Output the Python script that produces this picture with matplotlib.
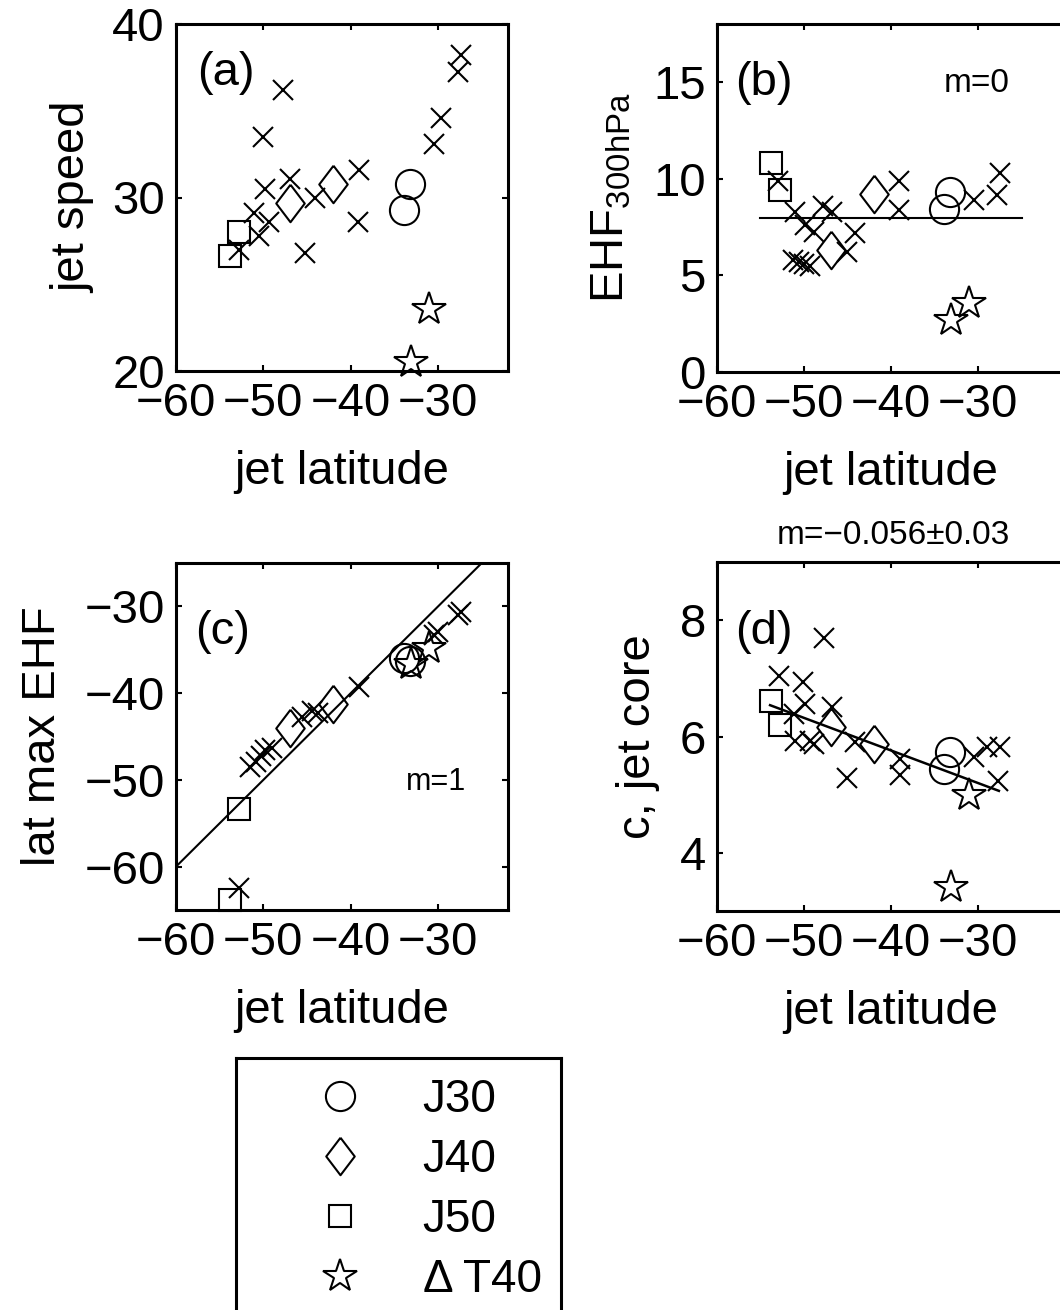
import matplotlib
matplotlib.use("Agg")
import matplotlib.pyplot as plt
import numpy as np

plt.rcParams['font.family'] = ['Liberation Sans', 'DejaVu Sans']
plt.rcParams['mathtext.fontset'] = 'custom'
plt.rcParams['mathtext.rm'] = 'Liberation Sans'
plt.rcParams['mathtext.it'] = 'Liberation Sans:italic'

# ---- data ----
# special runs, same jet latitudes in every panel
j30_lat = [-33.2, -33.9]
j40_lat = [-42.0, -46.9]
j50_lat = [-53.8, -52.8]
dt40_lat = [-31.0, -33.1]

# (a) jet speed
a_j30 = [30.8, 29.3]
a_j40 = [30.8, 29.7]
a_j50 = [26.6, 28.0]
a_dt40 = [23.6, 20.5]
a_x_lat = [-27.4, -27.7, -47.7, -50.0, -29.7, -30.5, -39.0, -46.9,
           -49.8, -44.1, -39.2, -45.2, -51.1, -49.4, -50.5, -52.8]
a_x_val = [38.2, 37.25, 36.2, 33.5, 34.6, 33.1, 31.6, 31.05,
           30.5, 29.95, 28.6, 26.8, 29.1, 28.6, 27.8, 27.0]

# (b) EHF 300hPa
b_j30 = [9.3, 8.45]
b_j40 = [9.2, 6.3]
b_j50 = [10.8, 9.4]
b_dt40 = [3.55, 2.7]
b_x_lat = [-53.0, -51.0, -47.8, -46.8, -49.9, -48.9, -44.1, -45.1, -39.1,
           -39.1, -51.3, -50.6, -50.0, -49.3, -30.5, -27.8, -27.5]
b_x_val = [9.9, 8.3, 8.6, 8.3, 7.6, 7.25, 7.2, 6.2, 9.9,
           8.4, 5.8, 5.7, 5.6, 5.5, 8.9, 9.15, 10.3]
b_fit_lat = [-55.1, -24.9]
b_fit_m = 0.0
b_fit_c = 7.95

# (c) latitude of max EHF
c_j30 = [-36.3, -36.0]
c_j40 = [-41.2, -44.0]
c_j50 = [-63.8, -53.3]
c_dt40 = [-34.8, -36.6]
c_x_lat = [-52.8, -51.5, -50.9, -50.3, -49.8, -49.0, -45.6, -44.4,
           -43.8, -39.0, -30.5, -30.0, -27.7, -27.4]
c_x_val = [-62.5, -48.5, -47.9, -47.3, -46.5, -46.3, -42.7, -42.1,
           -42.3, -39.3, -33.3, -33.0, -31.0, -30.6]
c_fit_lat = [-60.0, -25.0]
c_fit_m = 1.0
c_fit_c = 0.0

# (d) phase speed at jet core
d_j30 = [5.73, 5.44]
d_j40 = [5.87, 6.16]
d_j50 = [6.61, 6.2]
d_dt40 = [4.99, 3.42]
d_x_lat = [-47.7, -52.9, -50.1, -49.9, -46.8, -51.2, -51.0, -49.3, -48.9,
           -44.1, -45.1, -39.0, -39.0, -30.5, -29.0, -27.5, -27.7]
d_x_val = [7.70, 7.04, 6.93, 6.56, 6.50, 6.39, 5.93, 5.93, 5.87,
           5.90, 5.29, 5.62, 5.34, 5.64, 5.82, 5.82, 5.24]
d_fit_lat = [-53.9, -27.6]
d_fit_m = -0.056
d_fit_c = 3.52

W, H = 1060, 1310
fig = plt.figure(figsize=(W / 100, H / 100), dpi=100)


def px_axes(left, right, top, bottom):
    return fig.add_axes([left / W, 1 - bottom / H, (right - left) / W, (bottom - top) / H])


diamond = [(0, 1), (0.76, 0), (0, -1), (-0.76, 0), (0, 1)]
mk = dict(linestyle='none', mfc='none', mec='k', mew=1.5, clip_on=False)


def panel(ax, xs, ys, j30, j40, j50, dt40, xlim, ylim, yticks, right=True):
    ax.plot(xs, ys, marker='x', ms=15, **mk)
    h1, = ax.plot(j30_lat, j30, marker='o', ms=21, label='J30', **mk)
    h2, = ax.plot(j40_lat, j40, marker=diamond, ms=27, label='J40', **mk)
    h3, = ax.plot(j50_lat, j50, marker='s', ms=16.5, label='J50', **mk)
    h4, = ax.plot(dt40_lat, dt40, marker='*', ms=25, label='\u0394 T40', **mk)
    ax.set_xlim(xlim)
    ax.set_ylim(ylim)
    ax.set_xticks([-60, -50, -40, -30])
    ax.set_yticks(yticks)
    ax.tick_params(direction='in', length=4, width=1.5, labelsize=34, pad=8,
                   top=True, right=right)
    for s in ax.spines.values():
        s.set_linewidth(2.2)
    ax.set_xlabel('jet latitude', fontsize=34, labelpad=17)
    return [h1, h2, h3, h4]


ax_a = px_axes(176, 508, 24, 371)
handles = panel(ax_a, a_x_lat, a_x_val, a_j30, a_j40, a_j50, a_dt40, (-60, -22), (20, 40), [20, 30, 40])
ax_a.set_ylabel('jet speed', fontsize=34, labelpad=12)
ax_a.text(0.063, 0.86, '(a)', transform=ax_a.transAxes, fontsize=34, va='center')

ax_b = px_axes(717, 1065, 24, 372)
panel(ax_b, b_x_lat, b_x_val, b_j30, b_j40, b_j50, b_dt40, (-60, -20), (0, 18), [0, 5, 10, 15], right=False)
bx = np.array(b_fit_lat)
ax_b.plot(bx, b_fit_m * bx + b_fit_c, color='k', lw=1.5)
ax_b.set_ylabel('EHF$_{\\mathrm{300hPa}}$', fontsize=34, labelpad=14)
ax_b.text(0.052, 0.83, '(b)', transform=ax_b.transAxes, fontsize=34, va='center')
ax_b.text(0.747, 0.83, 'm=0', transform=ax_b.transAxes, fontsize=24, ha='center', va='center')

ax_c = px_axes(176, 508, 563, 910)
panel(ax_c, c_x_lat, c_x_val, c_j30, c_j40, c_j50, c_dt40, (-60, -22), (-65, -25), [-60, -50, -40, -30])
cx = np.array(c_fit_lat)
ax_c.plot(cx, c_fit_m * cx + c_fit_c, color='k', lw=1.5)
ax_c.set_ylabel('lat max EHF', fontsize=34, labelpad=14)
ax_c.text(0.057, 0.80, '(c)', transform=ax_c.transAxes, fontsize=34, va='center')
ax_c.text(0.783, 0.37, 'm=1', transform=ax_c.transAxes, fontsize=22, ha='center', va='center')

ax_d = px_axes(717, 1065, 562, 911)
panel(ax_d, d_x_lat, d_x_val, d_j30, d_j40, d_j50, d_dt40, (-60, -20), (3, 9), [4, 6, 8], right=False)
dx = np.array(d_fit_lat)
ax_d.plot(dx, d_fit_m * dx + d_fit_c, color='k', lw=1.8)
ax_d.set_ylabel('c, jet core', fontsize=34, labelpad=14)
ax_d.text(0.052, 0.80, '(d)', transform=ax_d.transAxes, fontsize=34, va='center')
fig.text(893 / W, 1 - 535 / H, 'm=\u22120.056\u00b10.03', fontsize=24, ha='center', va='center')

# legend box, cut off at the bottom like the reference
lax = px_axes(236, 561, 1058, 1340)
lax.set_xticks([])
lax.set_yticks([])
for s in lax.spines.values():
    s.set_linewidth(2.2)
lax.legend(handles=handles, loc='upper left', bbox_to_anchor=(0.25, 0.928),
           frameon=False, fontsize=33, handlelength=1.0, handletextpad=1.3,
           labelspacing=0.35, borderpad=0, borderaxespad=0)

fig.savefig('out.png', dpi=100)
